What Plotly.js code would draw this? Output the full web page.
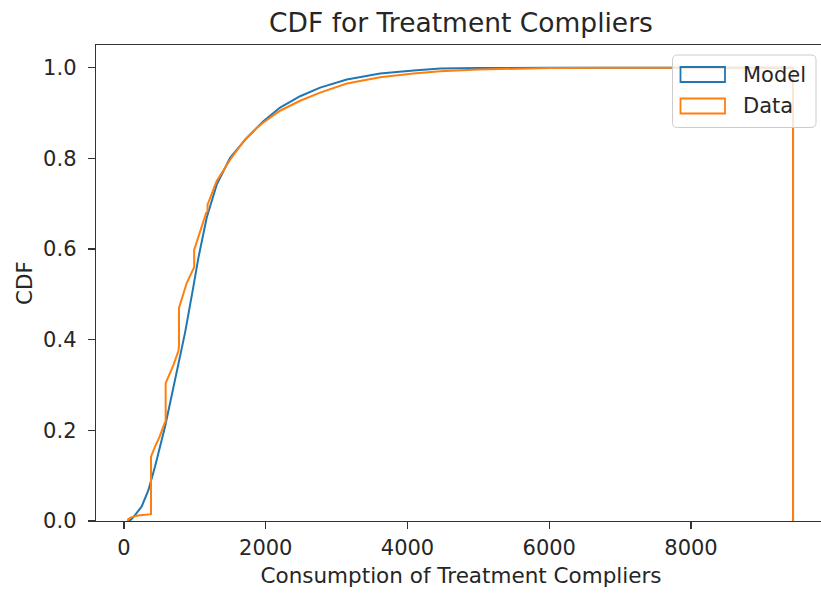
<!DOCTYPE html>
<html>
<head>
<meta charset="utf-8">
<script src="https://cdn.plot.ly/plotly-3.0.1.min.js"></script>
<style>
html, body { margin: 0; padding: 0; overflow: hidden; background: #fff; }
#chart { width: 830px; height: 595px; }
</style>
</head>
<body>
<div id="chart"></div>
<script>
// ---- data ----
const modelX = [50, 100, 155, 250, 344, 438, 579, 720, 861, 979, 1049, 1167, 1308, 1497, 1732, 1967, 2202, 2485, 2767, 3144, 3614, 4085, 4461, 5000, 5500, 6000, 7000, 8000, 9440, 9440];
const modelY = [0, 0.003, 0.013, 0.032, 0.068, 0.12, 0.208, 0.311, 0.415, 0.517, 0.580, 0.669, 0.742, 0.801, 0.845, 0.882, 0.912, 0.937, 0.956, 0.974, 0.987, 0.994, 0.998, 0.999, 1.0, 1.0, 1.0, 1.0, 1.0, 0];

const dataX = [52, 60, 100, 200, 381, 381, 438, 500, 569, 588, 588, 649, 700, 767, 776, 776, 830, 885, 979, 990, 990, 1002, 1080, 1160, 1179, 1179, 1308, 1497, 1700, 1873, 1967, 2202, 2485, 2767, 3144, 3614, 4085, 4461, 5000, 5500, 6000, 7000, 8000, 9440, 9440];
const dataY = [0, 0.004, 0.008, 0.012, 0.015, 0.142, 0.164, 0.185, 0.214, 0.220, 0.304, 0.326, 0.345, 0.375, 0.385, 0.470, 0.500, 0.525, 0.556, 0.560, 0.598, 0.604, 0.645, 0.680, 0.683, 0.698, 0.750, 0.797, 0.840, 0.867, 0.879, 0.905, 0.927, 0.945, 0.965, 0.979, 0.987, 0.992, 0.996, 0.998, 0.999, 1.0, 1.0, 1.0, 0];

const seriesNames = ['Model', 'Data'];
const seriesColors = ['#1f77b4', '#ff7f0e'];
const xTicks = [0, 2000, 4000, 6000, 8000];
const yTicks = [0, 0.2, 0.4, 0.6, 0.8, 1.0];

// ---- layout geometry ----
const W = 830, H = 595;
const M = { l: 96, r: 4, t: 45, b: 74 };
const PW = W - M.l - M.r, PH = H - M.t - M.b;
const px = x => (x - M.l) / PW;          // pixel -> paper x
const py = y => (H - M.b - y) / PH;      // pixel -> paper y

function roundRect(x0, y0, x1, y1, r) {
  const X = px, Y = py;
  return `M${X(x0 + r)},${Y(y0)} L${X(x1 - r)},${Y(y0)} Q${X(x1)},${Y(y0)} ${X(x1)},${Y(y0 + r)} ` +
         `L${X(x1)},${Y(y1 - r)} Q${X(x1)},${Y(y1)} ${X(x1 - r)},${Y(y1)} ` +
         `L${X(x0 + r)},${Y(y1)} Q${X(x0)},${Y(y1)} ${X(x0)},${Y(y1 - r)} ` +
         `L${X(x0)},${Y(y0 + r)} Q${X(x0)},${Y(y0)} ${X(x0 + r)},${Y(y0)} Z`;
}

const font = 'DejaVu Sans, sans-serif';
const txt = '#262626';

const traces = [
  { x: modelX, y: modelY, type: 'scatter', mode: 'lines', name: seriesNames[0],
    line: { color: seriesColors[0], width: 2 }, showlegend: false, hoverinfo: 'skip' },
  { x: dataX, y: dataY, type: 'scatter', mode: 'lines', name: seriesNames[1],
    line: { color: seriesColors[1], width: 2 }, showlegend: false, hoverinfo: 'skip' }
];

const legendRows = [74.5, 106];
const shapes = [
  { type: 'path', xref: 'paper', yref: 'paper', path: roundRect(672.5, 55, 816, 127.5, 5),
    fillcolor: 'rgba(255,255,255,0.8)', line: { color: '#cccccc', width: 1 }, layer: 'above' }
];
const annotations = [];
seriesNames.forEach((n, i) => {
  const cy = legendRows[i];
  shapes.push({ type: 'rect', xref: 'paper', yref: 'paper',
    x0: px(680.5), x1: px(725), y0: py(cy - 7.5), y1: py(cy + 7.5),
    fillcolor: 'rgba(0,0,0,0)', line: { color: seriesColors[i], width: 1.8 }, layer: 'above' });
  annotations.push({ xref: 'paper', yref: 'paper', x: px(741), y: py(cy), text: n,
    xanchor: 'left', yanchor: 'middle', showarrow: false,
    font: { family: font, size: 21, color: txt } });
});

const layout = {
  width: W, height: H,
  margin: M,
  paper_bgcolor: '#fff', plot_bgcolor: '#fff',
  font: { family: font, size: 21, color: txt },
  title: { text: 'CDF for Treatment Compliers', x: 0.5, xref: 'paper', xanchor: 'center',
           y: 1 - 23 / H, yref: 'container', yanchor: 'middle',
           font: { family: font, size: 26.5, color: txt } },
  xaxis: {
    range: [-395, 9905], tickvals: xTicks, ticktext: xTicks.map(String),
    ticks: 'outside', ticklen: 7, tickwidth: 1.3, tickcolor: '#333',
    showline: true, linecolor: '#333', linewidth: 1.3, mirror: true,
    showgrid: false, zeroline: false,
    tickfont: { family: font, size: 21, color: txt },
    title: { text: 'Consumption of Treatment Compliers', standoff: 9,
             font: { family: font, size: 21.5, color: txt } }
  },
  yaxis: {
    range: [0, 1.05], tickvals: yTicks, ticktext: yTicks.map(v => v.toFixed(1)),
    ticks: 'outside', ticklen: 7, tickwidth: 1.3, tickcolor: '#333',
    showline: true, linecolor: '#333', linewidth: 1.3, mirror: true,
    showgrid: false, zeroline: false, ticklabelstandoff: 7,
    tickfont: { family: font, size: 21, color: txt },
    title: { text: 'CDF', standoff: 4, font: { family: font, size: 21.5, color: txt } }
  },
  shapes: shapes,
  annotations: annotations,
  showlegend: false
};

Plotly.newPlot('chart', traces, layout, { staticPlot: true, displayModeBar: false });
</script>
</body>
</html>
